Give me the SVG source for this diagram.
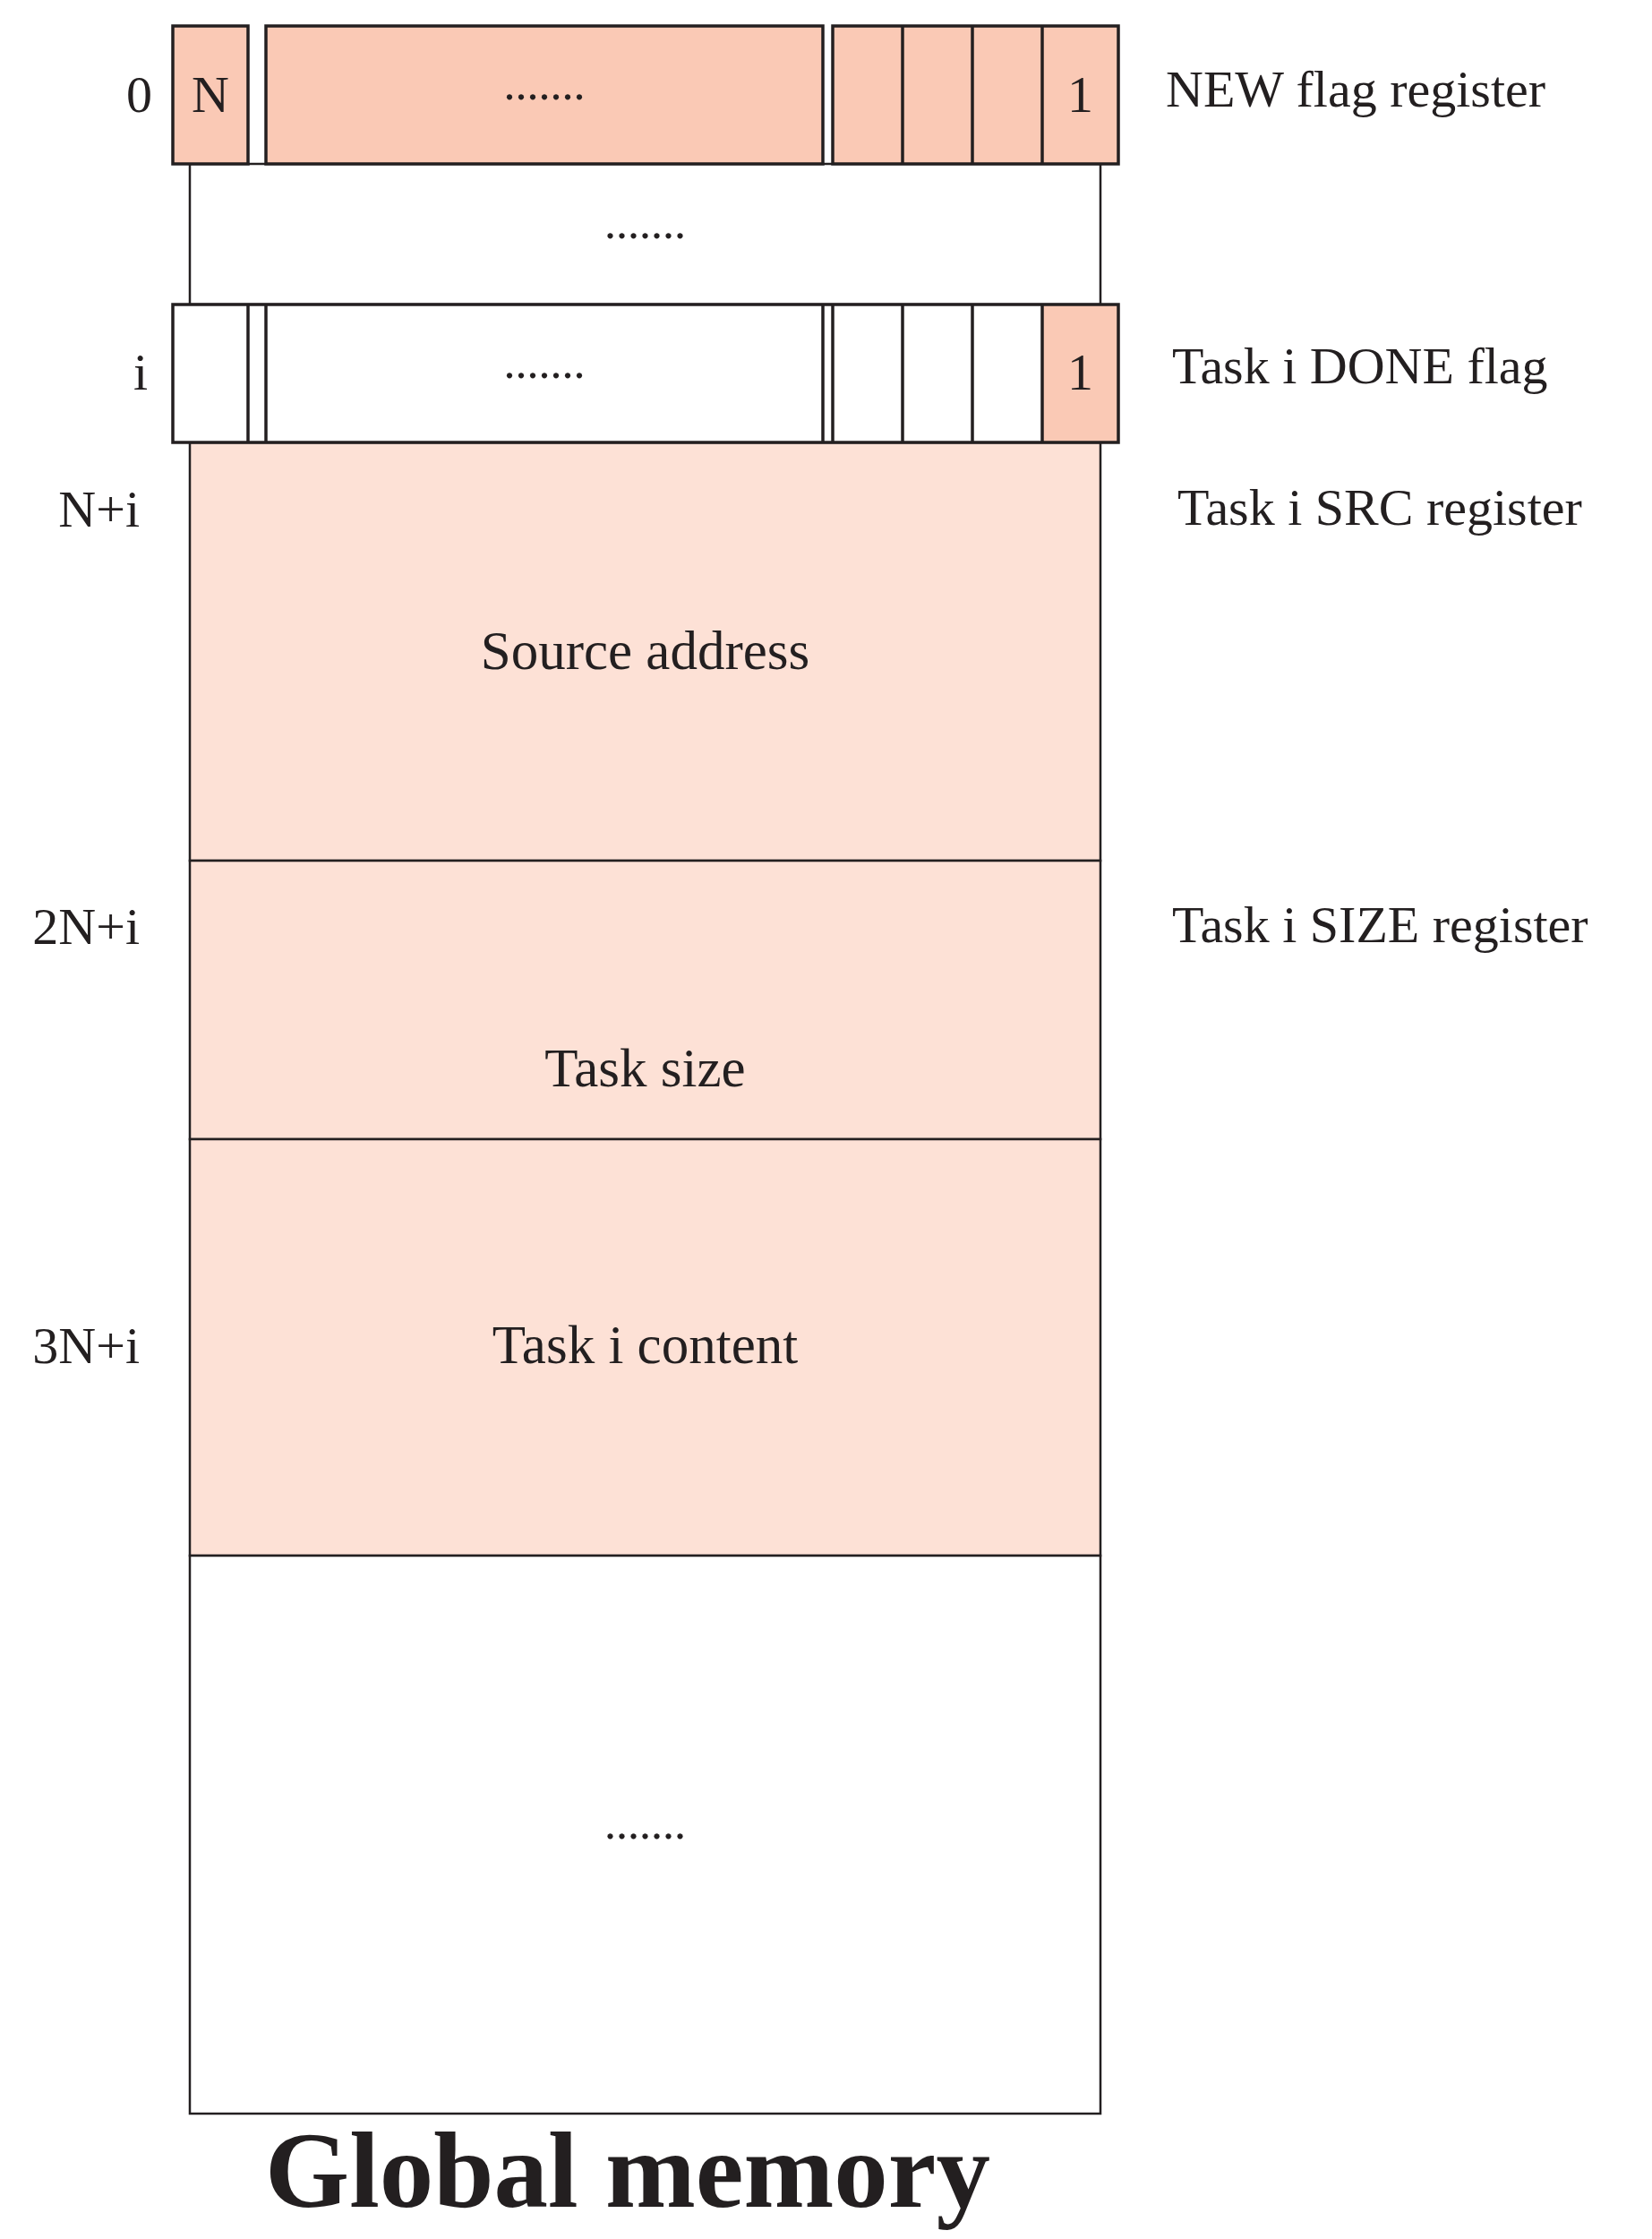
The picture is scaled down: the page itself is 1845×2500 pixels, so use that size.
<svg xmlns="http://www.w3.org/2000/svg" width="1845" height="2500" viewBox="0 0 1845 2500">
<style>
.col{stroke:#231F20;stroke-width:2.5;}
.reg{stroke:#231F20;stroke-width:3.5;}
.pk{fill:#FAC9B5;}
.lp{fill:#FDE1D6;}
.wh{fill:#FFFFFF;}
.t{font-family:"Liberation Serif","Times New Roman",serif;font-size:58px;fill:#231F20;}
.b{font-size:61px;}
.d{font-family:"Liberation Serif","Times New Roman",serif;font-size:52px;fill:#231F20;text-anchor:middle;}
.c{text-anchor:middle;}
.e{text-anchor:end;}
.title{font-family:"Liberation Serif","Times New Roman",serif;font-size:121px;font-weight:bold;fill:#231F20;text-anchor:middle;}
</style>
<rect width="1845" height="2500" fill="#FFFFFF"/>
<g id="memory-column">
<g id="gap-block">
<rect class="col wh" x="212" y="183" width="1017" height="157"/>
<text class="d" x="720.5" y="266">.......</text>
</g>
<g id="src-block">
<rect class="col lp" x="212" y="494" width="1017" height="467"/>
<text class="t b c" x="720.5" y="747">Source address</text>
</g>
<g id="size-block">
<rect class="col lp" x="212" y="961" width="1017" height="311"/>
<text class="t b c" x="720.5" y="1213">Task size</text>
</g>
<g id="content-block">
<rect class="col lp" x="212" y="1272" width="1017" height="465"/>
<text class="t b c" x="720.5" y="1522">Task i content</text>
</g>
<g id="rest-block">
<rect class="col wh" x="212" y="1737" width="1017" height="623"/>
<text class="d" x="720.5" y="2053">.......</text>
</g>
</g>
<g id="new-flag-register">
<rect class="reg pk" x="193" y="29" width="84" height="154"/>
<rect class="reg pk" x="297" y="29" width="622" height="154"/>
<rect class="reg pk" x="930" y="29" width="319" height="154"/>
<line class="reg" x1="1008" y1="29" x2="1008" y2="183"/>
<line class="reg" x1="1086" y1="29" x2="1086" y2="183"/>
<line class="reg" x1="1164" y1="29" x2="1164" y2="183"/>
<text class="t c" x="235" y="125">N</text>
<text class="d" x="608" y="111">.......</text>
<text class="t c" x="1206.5" y="125">1</text>
</g>
<g id="done-flag-register">
<rect class="wh" x="193" y="340" width="1056" height="154"/>
<rect class="pk" x="1164" y="340" width="85" height="154"/>
<rect class="reg" fill="none" x="193" y="340" width="1056" height="154"/>
<line class="reg" x1="277" y1="340" x2="277" y2="494"/>
<line class="reg" x1="297" y1="340" x2="297" y2="494"/>
<line class="reg" x1="919" y1="340" x2="919" y2="494"/>
<line class="reg" x1="930" y1="340" x2="930" y2="494"/>
<line class="reg" x1="1008" y1="340" x2="1008" y2="494"/>
<line class="reg" x1="1086" y1="340" x2="1086" y2="494"/>
<line class="reg" x1="1164" y1="340" x2="1164" y2="494"/>
<text class="d" x="608" y="422">.......</text>
<text class="t c" x="1206.5" y="435">1</text>
</g>
<g id="address-labels">
<text class="t e" x="170" y="125">0</text>
<text class="t e" x="165" y="435">i</text>
<text class="t e" x="156" y="588">N+i</text>
<text class="t e" x="156" y="1054">2N+i</text>
<text class="t e" x="156" y="1522">3N+i</text>
</g>
<g id="register-labels">
<text class="t" x="1302" y="119">NEW flag register</text>
<text class="t" x="1309" y="428">Task i DONE flag</text>
<text class="t" x="1315" y="586">Task i SRC register</text>
<text class="t" x="1309" y="1052">Task i SIZE register</text>
</g>
<g id="title">
<text class="title" x="701" y="2464">Global memory</text>
</g>
<g id="connectors"></g>
</svg>
